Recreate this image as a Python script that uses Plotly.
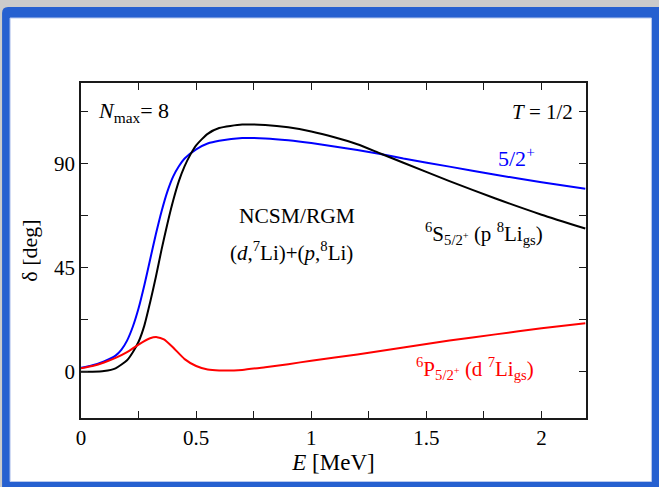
import plotly.graph_objects as go

# Phase shifts (deg) vs c.m. energy (MeV), NCSM/RGM (d,7Li)+(p,8Li), 5/2+ channel
E_s = [0.0, 0.05, 0.1, 0.15, 0.2, 0.225, 0.25, 0.275, 0.3, 0.325, 0.35, 0.375, 0.4,
       0.425, 0.45, 0.475, 0.5, 0.55, 0.6, 0.7, 0.8, 0.9, 1.0, 1.1, 1.2, 1.3, 1.4,
       1.6, 1.8, 2.0, 2.19]
delta_s = [0.0, 0.0, 0.3, 1.5, 5.0, 8.5, 13.0, 20.0, 30.0, 41.0, 53.0, 64.0, 74.0,
           82.5, 89.0, 94.0, 98.0, 103.0, 105.5, 107.0, 106.8, 105.8, 104.0, 101.5,
           98.5, 94.5, 90.5, 82.5, 75.0, 68.0, 62.0]

E_eig = [0.0, 0.05, 0.1, 0.15, 0.175, 0.2, 0.225, 0.25, 0.275, 0.3, 0.325, 0.35,
         0.375, 0.4, 0.425, 0.45, 0.5, 0.55, 0.6, 0.7, 0.8, 0.9, 1.0, 1.1, 1.2, 1.3,
         1.4, 1.6, 1.8, 2.0, 2.19]
delta_eig = [1.7, 2.8, 4.5, 7.0, 9.5, 13.5, 19.5, 27.5, 37.5, 48.5, 59.5, 69.5,
             78.0, 84.5, 89.0, 92.3, 96.3, 98.8, 100.0, 101.2, 101.0, 100.2, 99.0,
             97.5, 96.0, 94.3, 92.3, 88.8, 85.3, 82.0, 79.2]

E_p = [0.0, 0.05, 0.1, 0.15, 0.2, 0.25, 0.3, 0.33, 0.36, 0.4, 0.45, 0.5, 0.55, 0.6,
       0.7, 0.8, 0.9, 1.0, 1.2, 1.4, 1.6, 1.8, 2.0, 2.19]
delta_p = [1.5, 2.5, 4.0, 6.0, 8.5, 11.8, 14.5, 15.0, 14.0, 10.5, 5.5, 2.5, 1.0, 0.6,
           0.8, 2.0, 3.3, 4.8, 7.5, 10.5, 13.5, 16.2, 18.8, 21.0]

x_range = [0, 2.193]
y_range = [-20, 125]
x_ticks = [0, 0.5, 1, 1.5, 2]
x_ticklabels = ["0", "0.5", "1", "1.5", "2"]
y_ticks = [0, 45, 90]
y_ticklabels = ["0", "45", "90"]

W, H = 659, 487
ML, MR, MT, MB = 81, 72.5, 83, 69
PW, PH = W - ML - MR, H - MT - MB

SERIF = "Liberation Serif, Times New Roman, serif"
BLUE_FRAME = "#2660d0"


def px(x):
    return (x - ML) / PW


def py(y):
    return (H - MB - y) / PH


fig = go.Figure()
line_opts = dict(width=2, shape="spline", smoothing=0.6)
fig.add_trace(go.Scatter(x=E_eig, y=delta_eig, mode="lines", line=dict(line_opts, color="#0000ff")))
fig.add_trace(go.Scatter(x=E_s, y=delta_s, mode="lines", line=dict(line_opts, color="#000000")))
fig.add_trace(go.Scatter(x=E_p, y=delta_p, mode="lines", line=dict(line_opts, color="#ff0000")))

# slide frame: grey strip, blue border with rounded corner, white panel
r = 6
x0, y0, x1, y1 = 2, 7, W + 2, H + 2
path = (f"M {px(x0)},{py(y0 + r)} Q {px(x0)},{py(y0)} {px(x0 + r)},{py(y0)} "
        f"L {px(x1)},{py(y0)} L {px(x1)},{py(y1)} L {px(x0)},{py(y1)} Z")
shapes = [
    dict(type="path", xref="paper", yref="paper", path=path, fillcolor=BLUE_FRAME,
         line=dict(width=0), layer="below"),
    dict(type="rect", xref="paper", yref="paper", x0=px(10), x1=px(652), y0=py(18), y1=py(481.5),
         fillcolor="white", line=dict(color="#b8c8ee", width=1), layer="below"),
]

tf = dict(family=SERIF, size=21, color="black")
annotations = [
    dict(x=0.065, y=112.5, text="<i>N</i><sub>max</sub>= 8", xanchor="left", yanchor="middle",
         font=dict(family=SERIF, size=22, color="black")),
    dict(x=2.145, y=112.5, text="<i>T</i> = 1/2", xanchor="right", yanchor="middle"),
    dict(x=1.80, y=93.0, text="5/2<sup>+</sup>", xanchor="left", yanchor="middle",
         font=dict(family=SERIF, size=22, color="#0000ff")),
    dict(x=0.937, y=67.5, text="NCSM/RGM", xanchor="center", yanchor="middle",
         font=dict(family=SERIF, size=21.5, color="black")),
    dict(x=0.915, y=52.0, text="(<i>d</i>,<sup>7</sup>Li)+(<i>p</i>,<sup>8</sup>Li)",
         xanchor="center", yanchor="middle"),
    dict(x=1.485, y=60.0,
         text="<sup>6</sup>S<sub>5/2<sup>+</sup></sub> (p <sup>8</sup>Li<sub>gs</sub>)",
         xanchor="left", yanchor="middle", font=dict(family=SERIF, size=21, color="black")),
    dict(x=1.445, y=1.5,
         text="<sup>6</sup>P<sub>5/2<sup>+</sup></sub> (d <sup>7</sup>Li<sub>gs</sub>)",
         xanchor="left", yanchor="middle", font=dict(family=SERIF, size=21, color="#ff0000")),
]
for a in annotations:
    a.setdefault("font", tf)
    a.update(xref="x", yref="y", showarrow=False)

axis_common = dict(
    showgrid=False, zeroline=False, showline=True, linecolor="#1a1a1a", linewidth=1.5,
    mirror="ticks", ticks="inside", ticklen=7, tickwidth=1.2, tickcolor="#1a1a1a",
    tickfont=dict(family=SERIF, size=21, color="black"),
)

fig.update_layout(
    width=W, height=H,
    margin=dict(l=ML, r=MR, t=MT, b=MB, pad=0),
    paper_bgcolor="#cbcbcb", plot_bgcolor="white",
    showlegend=False,
    shapes=shapes, annotations=annotations,
    xaxis=dict(axis_common, range=x_range, tickmode="array", tickvals=x_ticks, ticktext=x_ticklabels,
               minor=dict(dtick=0.25, tick0=0, ticks="inside", ticklen=7, tickcolor="#1a1a1a", tickwidth=1.2),
               title=dict(text="<i>E</i> [MeV]", font=dict(family=SERIF, size=23, color="black"), standoff=4)),
    yaxis=dict(axis_common, range=y_range, tickmode="array", tickvals=y_ticks, ticktext=y_ticklabels,
               minor=dict(dtick=22.5, tick0=0, ticks="inside", ticklen=7, tickcolor="#1a1a1a", tickwidth=1.2),
               title=dict(text="δ [deg]", font=dict(family=SERIF, size=22, color="black"), standoff=10)),
)

fig.write_html("out.html")
